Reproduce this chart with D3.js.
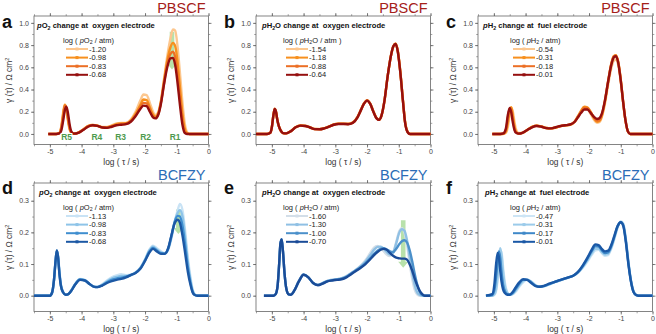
<!DOCTYPE html>
<html>
<head>
<meta charset="utf-8">
<script src="https://cdn.jsdelivr.net/npm/d3@7"></script>
<style>
  body { margin: 0; background: #fff; }
  svg { display: block; font-family: "Liberation Sans", Arial, sans-serif; }
</style>
</head>
<body>
<svg id="chart" width="656" height="334"></svg>
<script>
// ---- data: log(tau / s) grids and gamma(tau) values ----
const xA = [-5.05,-4.8,-4.7,-4.64,-4.58,-4.53,-4.48,-4.43,-4.38,-4.32,-4.25,-4.1,-3.95,-3.8,-3.65,-3.5,-3.35,-3.2,-3.05,-2.9,-2.75,-2.6,-2.45,-2.3,-2.15,-2.05,-1.95,-1.85,-1.75,-1.67,-1.58,-1.5,-1.4,-1.3,-1.2,-1.12,-1.05,-0.98,-0.9,-0.82,-0.75,-0.68,-0.6,0];
const a1 = [0,0,0.01,0.07,0.2,0.265,0.22,0.12,0.04,0.008,0.002,0.012,0.04,0.07,0.08,0.075,0.062,0.062,0.078,0.095,0.1,0.1,0.13,0.2,0.3,0.355,0.35,0.28,0.2,0.17,0.2,0.3,0.5,0.7,0.86,0.94,0.93,0.8,0.55,0.28,0.1,0.02,0,0];
const a2 = [0,0,0.008,0.06,0.18,0.26,0.23,0.13,0.05,0.01,0.002,0.012,0.04,0.07,0.08,0.074,0.06,0.06,0.072,0.088,0.094,0.096,0.12,0.18,0.26,0.31,0.305,0.24,0.175,0.155,0.19,0.29,0.48,0.66,0.78,0.82,0.79,0.66,0.42,0.18,0.05,0.008,0,0];
const a3 = [0,0,0.007,0.05,0.16,0.255,0.235,0.15,0.06,0.012,0.002,0.011,0.038,0.068,0.079,0.073,0.059,0.058,0.068,0.082,0.088,0.092,0.115,0.17,0.24,0.28,0.275,0.22,0.16,0.145,0.18,0.28,0.46,0.63,0.72,0.74,0.69,0.54,0.32,0.12,0.025,0.003,0,0];
const a4 = [0,0,0.005,0.03,0.12,0.21,0.245,0.19,0.09,0.02,0.003,0.01,0.035,0.065,0.078,0.072,0.058,0.055,0.065,0.078,0.083,0.088,0.11,0.16,0.225,0.255,0.25,0.2,0.15,0.14,0.175,0.27,0.45,0.6,0.68,0.685,0.62,0.47,0.26,0.08,0.01,0,0,0];

const xB = [-5.5,-5.15,-5.05,-5.0,-4.95,-4.91,-4.87,-4.83,-4.78,-4.72,-4.65,-4.55,-4.4,-4.25,-4.1,-3.95,-3.8,-3.65,-3.5,-3.35,-3.2,-3.05,-2.9,-2.75,-2.6,-2.45,-2.3,-2.2,-2.1,-2.0,-1.9,-1.8,-1.7,-1.62,-1.55,-1.45,-1.35,-1.25,-1.17,-1.1,-1.03,-0.95,-0.87,-0.8,-0.72,-0.65,-0.55,0];
const b1 = [0,0,0.012,0.065,0.175,0.228,0.2,0.128,0.068,0.03,0.008,0.006,0.027,0.062,0.077,0.074,0.06,0.045,0.044,0.052,0.068,0.086,0.094,0.094,0.092,0.105,0.155,0.215,0.275,0.305,0.275,0.205,0.145,0.13,0.162,0.3,0.52,0.7,0.79,0.815,0.75,0.56,0.31,0.11,0.02,0,0,0];
const b2 = [0,0,0.011,0.062,0.172,0.226,0.2,0.13,0.07,0.03,0.008,0.005,0.026,0.061,0.076,0.073,0.059,0.044,0.043,0.051,0.066,0.085,0.092,0.092,0.09,0.102,0.152,0.212,0.272,0.302,0.272,0.202,0.142,0.128,0.161,0.3,0.52,0.7,0.79,0.812,0.745,0.555,0.305,0.105,0.018,0,0,0];
const b3 = [0,0,0.01,0.061,0.171,0.225,0.2,0.13,0.07,0.03,0.008,0.005,0.025,0.06,0.075,0.072,0.058,0.043,0.042,0.05,0.065,0.084,0.091,0.091,0.089,0.101,0.151,0.211,0.271,0.301,0.271,0.201,0.141,0.127,0.16,0.3,0.52,0.7,0.79,0.81,0.742,0.552,0.302,0.102,0.016,0,0,0];
const b4 = [0,0,0.01,0.06,0.17,0.225,0.2,0.13,0.07,0.03,0.008,0.005,0.025,0.06,0.075,0.072,0.058,0.043,0.042,0.05,0.065,0.083,0.09,0.09,0.088,0.1,0.15,0.21,0.27,0.3,0.27,0.2,0.14,0.127,0.16,0.3,0.52,0.7,0.79,0.81,0.74,0.55,0.3,0.1,0.015,0,0,0];

const xC = [-5.05,-4.8,-4.7,-4.62,-4.56,-4.5,-4.45,-4.4,-4.35,-4.3,-4.22,-4.1,-3.95,-3.8,-3.65,-3.5,-3.35,-3.2,-3.05,-2.9,-2.75,-2.6,-2.45,-2.35,-2.25,-2.15,-2.05,-1.95,-1.85,-1.75,-1.68,-1.6,-1.5,-1.4,-1.3,-1.22,-1.15,-1.08,-1.0,-0.93,-0.85,-0.77,-0.7,0];
const c1 = [0,0,0,0.01,0.06,0.17,0.235,0.2,0.11,0.04,0.008,0.01,0.035,0.062,0.075,0.068,0.054,0.05,0.058,0.07,0.078,0.083,0.11,0.15,0.2,0.23,0.225,0.18,0.13,0.1,0.105,0.15,0.27,0.44,0.59,0.66,0.67,0.62,0.47,0.29,0.11,0.02,0,0];
const c2 = [0,0,0.002,0.02,0.1,0.21,0.24,0.16,0.07,0.02,0.004,0.01,0.036,0.063,0.075,0.067,0.053,0.05,0.058,0.07,0.077,0.083,0.112,0.16,0.21,0.245,0.24,0.2,0.145,0.11,0.115,0.16,0.29,0.47,0.63,0.7,0.71,0.65,0.49,0.3,0.12,0.02,0,0];
const c3 = [0,0,0.003,0.035,0.14,0.23,0.215,0.13,0.05,0.015,0.003,0.01,0.035,0.062,0.074,0.066,0.053,0.05,0.059,0.071,0.078,0.084,0.112,0.155,0.2,0.235,0.232,0.195,0.15,0.12,0.125,0.17,0.3,0.47,0.63,0.7,0.705,0.645,0.485,0.3,0.12,0.02,0,0];
const c4 = [0,0,0.005,0.05,0.17,0.235,0.19,0.1,0.035,0.01,0.003,0.01,0.035,0.06,0.072,0.065,0.052,0.05,0.06,0.072,0.078,0.085,0.11,0.15,0.19,0.22,0.22,0.19,0.155,0.135,0.14,0.18,0.3,0.47,0.62,0.69,0.7,0.64,0.48,0.3,0.12,0.02,0,0];

const xD = [-5.5,-5.0,-4.93,-4.87,-4.82,-4.78,-4.74,-4.7,-4.65,-4.58,-4.5,-4.42,-4.33,-4.2,-4.05,-3.9,-3.75,-3.6,-3.5,-3.35,-3.2,-3.05,-2.9,-2.75,-2.6,-2.45,-2.3,-2.15,-2.0,-1.87,-1.75,-1.63,-1.5,-1.38,-1.27,-1.17,-1.07,-0.97,-0.9,-0.82,-0.73,-0.65,-0.57,-0.5,-0.43,-0.35,0];
const d1 = [0,0,0.008,0.045,0.105,0.14,0.125,0.08,0.035,0.012,0.003,0.005,0.016,0.038,0.053,0.05,0.038,0.028,0.028,0.036,0.048,0.058,0.064,0.068,0.065,0.066,0.073,0.088,0.115,0.145,0.158,0.15,0.14,0.135,0.145,0.18,0.23,0.27,0.29,0.27,0.2,0.12,0.06,0.02,0.004,0,0];
const d2 = [0,0,0.009,0.048,0.108,0.142,0.122,0.075,0.033,0.011,0.003,0.005,0.016,0.037,0.052,0.049,0.037,0.028,0.028,0.034,0.045,0.054,0.059,0.062,0.062,0.066,0.073,0.087,0.113,0.142,0.155,0.146,0.137,0.134,0.148,0.185,0.232,0.262,0.27,0.25,0.18,0.105,0.05,0.016,0.003,0,0];
const d3v = [0,0,0.01,0.05,0.11,0.143,0.121,0.072,0.031,0.01,0.003,0.005,0.015,0.036,0.051,0.048,0.037,0.028,0.027,0.033,0.042,0.05,0.054,0.057,0.06,0.065,0.072,0.086,0.111,0.138,0.151,0.143,0.134,0.133,0.149,0.188,0.232,0.252,0.25,0.22,0.155,0.09,0.042,0.013,0.002,0,0];
const d4 = [0,0,0.01,0.05,0.11,0.143,0.12,0.07,0.03,0.01,0.003,0.005,0.015,0.035,0.05,0.048,0.037,0.028,0.027,0.032,0.04,0.046,0.05,0.053,0.058,0.065,0.072,0.085,0.11,0.135,0.148,0.14,0.132,0.132,0.15,0.19,0.228,0.24,0.23,0.19,0.13,0.075,0.035,0.01,0.002,0,0];

const xE = [-5.25,-4.95,-4.88,-4.82,-4.77,-4.73,-4.69,-4.65,-4.6,-4.54,-4.47,-4.4,-4.3,-4.15,-4.0,-3.85,-3.7,-3.55,-3.4,-3.25,-3.1,-2.95,-2.8,-2.65,-2.5,-2.35,-2.2,-2.05,-1.9,-1.78,-1.67,-1.57,-1.47,-1.38,-1.28,-1.18,-1.08,-0.98,-0.9,-0.82,-0.74,-0.66,-0.58,-0.5,-0.42,-0.34,-0.26,-0.18,-0.1,0];
const e1 = [0,0,0.005,0.03,0.1,0.165,0.178,0.14,0.07,0.02,0.004,0.003,0.015,0.046,0.067,0.058,0.04,0.034,0.04,0.047,0.05,0.052,0.055,0.062,0.072,0.082,0.095,0.112,0.135,0.152,0.157,0.15,0.14,0.13,0.125,0.135,0.17,0.205,0.213,0.2,0.16,0.105,0.055,0.02,0.004,0,0,0,0,0];
const e2 = [0,0,0.005,0.03,0.1,0.165,0.178,0.14,0.07,0.02,0.004,0.003,0.015,0.046,0.067,0.058,0.04,0.034,0.04,0.047,0.05,0.052,0.055,0.061,0.071,0.081,0.093,0.108,0.128,0.145,0.154,0.155,0.148,0.138,0.13,0.135,0.165,0.2,0.21,0.205,0.175,0.125,0.075,0.035,0.01,0.002,0,0,0,0];
const e3 = [0,0,0.005,0.03,0.1,0.165,0.178,0.14,0.07,0.02,0.004,0.003,0.015,0.045,0.066,0.058,0.04,0.034,0.039,0.046,0.049,0.051,0.054,0.06,0.07,0.08,0.09,0.103,0.118,0.132,0.142,0.148,0.15,0.146,0.14,0.138,0.148,0.163,0.172,0.175,0.168,0.145,0.11,0.07,0.036,0.012,0.002,0,0,0];
const e4 = [0,0,0.005,0.03,0.1,0.165,0.178,0.14,0.07,0.02,0.004,0.003,0.015,0.045,0.066,0.058,0.04,0.033,0.038,0.045,0.048,0.05,0.052,0.058,0.068,0.078,0.088,0.1,0.115,0.128,0.138,0.145,0.148,0.145,0.135,0.126,0.12,0.118,0.117,0.117,0.114,0.1,0.08,0.055,0.033,0.015,0.005,0,0,0];

const xF = [-5.25,-5.05,-4.98,-4.93,-4.88,-4.84,-4.8,-4.76,-4.71,-4.65,-4.58,-4.5,-4.42,-4.32,-4.2,-4.08,-3.95,-3.82,-3.68,-3.55,-3.4,-3.25,-3.1,-2.95,-2.8,-2.65,-2.5,-2.35,-2.2,-2.05,-1.92,-1.8,-1.7,-1.6,-1.5,-1.4,-1.3,-1.2,-1.1,-1.0,-0.92,-0.84,-0.76,-0.68,-0.6,-0.52,-0.45,0];
const f1 = [0,0,0.003,0.015,0.05,0.1,0.14,0.14,0.09,0.04,0.012,0.003,0.004,0.012,0.028,0.042,0.05,0.045,0.033,0.028,0.03,0.036,0.042,0.047,0.052,0.057,0.063,0.072,0.088,0.108,0.128,0.143,0.145,0.135,0.126,0.128,0.148,0.18,0.215,0.235,0.228,0.18,0.11,0.05,0.015,0.003,0,0];
const f2 = [0,0,0.005,0.02,0.065,0.12,0.15,0.13,0.075,0.03,0.01,0.003,0.005,0.015,0.032,0.046,0.051,0.044,0.032,0.028,0.03,0.036,0.042,0.047,0.052,0.057,0.063,0.073,0.09,0.112,0.133,0.148,0.148,0.138,0.13,0.132,0.152,0.183,0.217,0.233,0.225,0.177,0.106,0.048,0.014,0.003,0,0];
const f3 = [0,0.002,0.02,0.06,0.11,0.14,0.12,0.075,0.035,0.014,0.005,0.003,0.007,0.02,0.038,0.05,0.05,0.042,0.031,0.028,0.031,0.037,0.043,0.048,0.053,0.058,0.063,0.074,0.093,0.117,0.14,0.156,0.155,0.144,0.135,0.137,0.156,0.187,0.219,0.232,0.222,0.173,0.103,0.047,0.013,0.002,0,0];
const f4 = [0,0.005,0.04,0.1,0.135,0.12,0.08,0.045,0.02,0.008,0.003,0.003,0.01,0.025,0.042,0.052,0.05,0.04,0.03,0.028,0.032,0.038,0.043,0.048,0.053,0.058,0.063,0.075,0.095,0.12,0.145,0.162,0.16,0.148,0.14,0.142,0.16,0.19,0.22,0.232,0.22,0.17,0.1,0.045,0.012,0.002,0,0];

// legend labels (log of partial pressure / atm)
const labelsA = ["-1.20","-0.98","-0.83","-0.68"];
const labelsB = ["-1.54","-1.18","-0.88","-0.64"];
const labelsC = ["-0.54","-0.31","-0.18","-0.01"];
const labelsD = ["-1.13","-0.98","-0.83","-0.68"];
const labelsE = ["-1.60","-1.30","-1.00","-0.70"];
const labelsF = ["-0.47","-0.31","-0.17","-0.01"];

const xTicks = [-5,-4,-3,-2,-1,0];
const yTicksTop = [0,0.2,0.4,0.6,0.8,1.0];
const yTicksBot = [0,0.1,0.2,0.3];

// peak names in panel a
const peakNames = ["R5","R4","R3","R2","R1"];
const peakPos = [-4.47,-3.52,-2.77,-1.98,-1.05];

// trend arrows: [panel, log tau, from, to]
const arrows = [["a",-1.15,0.92,0.58],["d",-0.95,0.272,0.195],["e",-0.86,0.238,0.088]];

const orange = ["#fcc78f","#f7901e","#ec6f25","#950f0f"];
const blueD = ["#c9e3f5","#8ec4e8","#3f8ecf","#1c58a4"];
const blueE = ["#d3dee8","#8fc0e4","#4b90ca","#1a4b97"];
const blueF = ["#cde5f5","#9bcbea","#3e88c8","#1a58a6"];

// ---- layout ----
const svg = d3.select("#chart");
const colLeft = [34, 256, 478];
const rowTop = [16, 183];
const PW = 174.5, PH = 128.5;

const pO2 = [{t:"p",i:1},{t:"O"},{t:"2",s:1}];
const pH2O = [{t:"p",i:1},{t:"H"},{t:"2",s:1},{t:"O"}];
const pH2 = [{t:"p",i:1},{t:"H"},{t:"2",s:1}];

const panels = [
  {id:"a", col:0, row:0, xs:xA, ys:[a1,a2,a3,a4], labels:labelsA, colors:orange, gas:pO2, where:" change at\u00a0 oxygen electrode", mat:"PBSCF", legX:29, titleX:3},
  {id:"b", col:1, row:0, xs:xB, ys:[b1,b2,b3,b4], labels:labelsB, colors:orange, gas:pH2O, where:" change at\u00a0 oxygen electrode", mat:"PBSCF", legX:27, titleX:6, legClose:" )"},
  {id:"c", col:2, row:0, xs:xC, ys:[c1,c2,c3,c4], labels:labelsC, colors:orange, gas:pH2, where:" change at\u00a0 fuel electrode", mat:"PBSCF", legX:32, titleX:5},
  {id:"d", col:0, row:1, xs:xD, ys:[d1,d2,d3v,d4], labels:labelsD, colors:blueD, gas:pO2, where:" change at\u00a0 oxygen electrode", mat:"BCFZY", legX:29, titleX:5},
  {id:"e", col:1, row:1, xs:xE, ys:[e1,e2,e3,e4], labels:labelsE, colors:blueE, gas:pH2O, where:" change at\u00a0 oxygen electrode", mat:"BCFZY", legX:27, titleX:6},
  {id:"f", col:2, row:1, xs:xF, ys:[f1,f2,f3,f4], labels:labelsF, colors:blueF, gas:pH2, where:" change at\u00a0 fuel electrode", mat:"BCFZY", legX:32, titleX:7}
];

function richLine(sel, parts, size) {
  // italic / subscript runs, baseline restored after each subscript
  let shifted = 0;
  parts.forEach(p => {
    const ts = sel.append("tspan").text(p.t);
    if (p.i) ts.attr("font-style", "italic");
    if (p.s) { ts.attr("font-size", size * 0.7).attr("dy", size * 0.25); shifted = size * 0.25; }
    else { ts.attr("dy", -shifted); shifted = 0; }
  });
}

panels.forEach(p => {
  const L = colLeft[p.col], T = rowTop[p.row];
  const x = d3.scaleLinear().domain([-5.5, 0]).range([L, L + PW]);
  const y = p.row === 0
    ? d3.scaleLinear().domain([-0.095, 1.062]).range([T + PH, T])
    : d3.scaleLinear().domain([-0.05, 0.356]).range([T + PH, T]);
  const yTicks = p.row === 0 ? yTicksTop : yTicksBot;
  const yStep = yTicks[1] - yTicks[0];
  const yMinor = d3.range(yTicks[0], yTicks[yTicks.length - 1] + yStep, yStep / 2).filter(v => v <= y.domain()[1]);
  const xMinor = d3.range(-5.5, 0.01, 0.5);

  const g = svg.append("g");

  // minor ticks
  const minorStyle = ax => ax.call(s => s.select(".domain").remove())
    .call(s => s.selectAll("line").attr("stroke", "#666").attr("stroke-width", 0.6));
  g.append("g").attr("transform", `translate(0,${T + PH})`)
    .call(d3.axisBottom(x).tickValues(xMinor).tickSize(1.8).tickFormat("")).call(minorStyle);
  g.append("g").attr("transform", `translate(0,${T})`)
    .call(d3.axisTop(x).tickValues(xMinor).tickSize(1.8).tickFormat("")).call(minorStyle);
  g.append("g").attr("transform", `translate(${L},0)`)
    .call(d3.axisLeft(y).tickValues(yMinor).tickSize(1.8).tickFormat("")).call(minorStyle);
  g.append("g").attr("transform", `translate(${L + PW},0)`)
    .call(d3.axisRight(y).tickValues(yMinor).tickSize(1.8).tickFormat("")).call(minorStyle);

  // major ticks
  const majorStyle = ax => ax.call(s => s.select(".domain").remove())
    .call(s => s.selectAll("line").attr("stroke", "#555").attr("stroke-width", 0.7))
    .call(s => s.selectAll("text").attr("fill", "#444").attr("font-size", 7)
      .attr("font-family", "'Liberation Sans', Arial, sans-serif"));
  g.append("g").attr("transform", `translate(0,${T + PH})`)
    .call(d3.axisBottom(x).tickValues(xTicks).tickSize(3).tickPadding(1.5).tickFormat(d => String(d))).call(majorStyle);
  g.append("g").attr("transform", `translate(0,${T})`)
    .call(d3.axisTop(x).tickValues(xTicks).tickSize(3).tickFormat("")).call(majorStyle);
  g.append("g").attr("transform", `translate(${L},0)`)
    .call(d3.axisLeft(y).tickValues(yTicks).tickSize(3).tickPadding(2).tickFormat(d3.format(".1f"))).call(majorStyle);
  g.append("g").attr("transform", `translate(${L + PW},0)`)
    .call(d3.axisRight(y).tickValues(yTicks).tickSize(3).tickFormat("")).call(majorStyle);

  g.append("rect").attr("x", L).attr("y", T).attr("width", PW).attr("height", PH)
    .attr("fill", "none").attr("stroke", "#666").attr("stroke-width", 0.8);

  // axis titles
  g.append("text").attr("x", L + PW / 2).attr("y", T + PH + 20.5)
    .attr("text-anchor", "middle").attr("font-size", 8.4).attr("fill", "#333")
    .text("log ( \u03c4 / s)");
  const yl = g.append("text")
    .attr("transform", `translate(${L - 22},${T + PH / 2}) rotate(-90)`)
    .attr("text-anchor", "middle").attr("font-size", 8.4).attr("fill", "#333");
  yl.append("tspan").text("\u03b3 (\u03c4) / \u03a9 cm");
  yl.append("tspan").text("2").attr("font-size", 5.6).attr("dy", -3);

  // panel letter and material name
  g.append("text").attr("x", L - 32).attr("y", T + (p.row === 0 ? 12 : 11))
    .attr("font-size", 18).attr("font-weight", "bold").attr("fill", "#111").text(p.id);
  g.append("text").attr("x", L + PW - 3).attr("y", T - 3.5).attr("text-anchor", "end")
    .attr("font-size", 14.5).attr("fill", p.mat === "PBSCF" ? "#a52019" : "#2b6cb6").text(p.mat);

  // green trend arrow
  arrows.filter(a => a[0] === p.id).forEach(a => {
    const cx = x(a[1]), y0 = y(a[2]), y1 = y(a[3]);
    const hw = 2.3, hh = 5, hl = 6;
    g.append("path")
      .attr("d", `M${cx - hw},${y0} L${cx + hw},${y0} L${cx + hw},${y1 - hl} L${cx + hh},${y1 - hl} L${cx},${y1} L${cx - hh},${y1 - hl} L${cx - hw},${y1 - hl} Z`)
      .attr("fill", "#a6d995").attr("opacity", 0.8);
  });

  // curves
  const line = d3.line().x(d => x(d[0])).y(d => y(d[1])).curve(d3.curveMonotoneX);
  p.ys.forEach((vals, i) => {
    g.append("path").datum(d3.zip(p.xs, vals))
      .attr("fill", "none").attr("stroke", p.colors[i]).attr("stroke-width", 2.4)
      .attr("stroke-linejoin", "round").attr("d", line);
  });

  // peak labels
  if (p.id === "a") {
    peakNames.forEach((n, i) => {
      g.append("text").attr("x", x(peakPos[i])).attr("y", y(0) + 6.5)
        .attr("text-anchor", "middle").attr("font-size", 8.5).attr("font-weight", "bold")
        .attr("fill", "#4e9a4e").attr("stroke", "#fff").attr("stroke-width", 2)
        .attr("paint-order", "stroke").text(n);
    });
  }

  // title inside plot
  const tt = g.append("text").attr("x", L + p.titleX).attr("y", T + 12)
    .attr("font-size", 7.6).attr("font-weight", "bold").attr("fill", "#111");
  richLine(tt, p.gas.concat([{t: p.where}]), 7.6);

  // legend
  const lx = L + p.legX;
  const lt = g.append("text").attr("x", lx).attr("y", T + 26.5).attr("font-size", 7.5).attr("fill", "#222");
  richLine(lt, [{t:"log ( "}].concat(p.gas).concat([{t: p.legClose ? " / atm )" : " / atm)"}]), 7.5);
  p.labels.forEach((lab, i) => {
    const yy = T + 33 + i * 8.6;
    g.append("line").attr("x1", lx + 3).attr("x2", lx + 25).attr("y1", yy).attr("y2", yy)
      .attr("stroke", p.colors[i]).attr("stroke-width", 2);
    g.append("rect").attr("x", lx + 12.5).attr("y", yy - 1.5).attr("width", 3).attr("height", 3)
      .attr("fill", p.colors[i]);
    g.append("text").attr("x", lx + 26).attr("y", yy + 2.6).attr("font-size", 7.5)
      .attr("fill", "#222").text(lab);
  });
});
</script>
</body>
</html>
